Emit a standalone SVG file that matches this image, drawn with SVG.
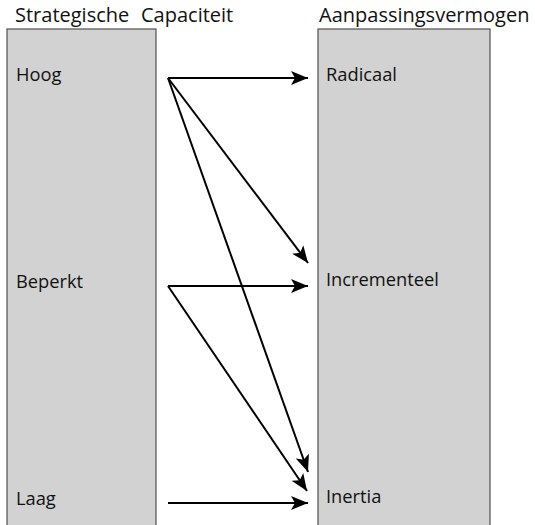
<svg xmlns="http://www.w3.org/2000/svg" width="535" height="525" viewBox="0 0 535 525">
  <style>
    .box { fill: #d2d2d2; stroke: #505050; stroke-width: 1.2; }
    .title { font-family: "Open Sans", "Liberation Sans", sans-serif; font-size: 20px; fill: #111; }
    .lbl { font-family: "Open Sans", "Liberation Sans", sans-serif; font-size: 18.3px; fill: #111; }
    .arr { stroke: #000; stroke-width: 2; fill: none; marker-end: url(#ah); }
  </style>
  <defs>
    <marker id="ah" markerUnits="userSpaceOnUse" markerWidth="20" markerHeight="14" refX="17" refY="7" orient="auto">
      <path d="M0,0 L17,7 L0,14 L4,7 z" fill="#000"/>
    </marker>
  </defs>
  <rect width="535" height="525" fill="#fff"/>
  <text class="title" x="15" y="22">Strategische</text>
  <text class="title" x="141" y="22">Capaciteit</text>
  <text class="title" x="319" y="22">Aanpassingsvermogen</text>
  <g id="strategische-capaciteit">
    <rect class="box" x="7" y="29" width="149" height="510"/>
    <g id="hoog"><text class="lbl" x="16" y="81">Hoog</text></g>
    <g id="beperkt"><text class="lbl" x="16" y="288">Beperkt</text></g>
    <g id="laag"><text class="lbl" x="16" y="505">Laag</text></g>
  </g>
  <g id="aanpassingsvermogen">
    <rect class="box" x="318" y="29" width="172" height="510"/>
    <g id="radicaal"><text class="lbl" x="326" y="81">Radicaal</text></g>
    <g id="incrementeel"><text class="lbl" x="326" y="286">Incrementeel</text></g>
    <g id="inertia"><text class="lbl" x="326" y="503">Inertia</text></g>
  </g>
  <g id="connectors">
    <line class="arr" x1="168" y1="78" x2="308" y2="78"/>
    <line class="arr" x1="168" y1="78" x2="308" y2="263"/>
    <line class="arr" x1="168" y1="78" x2="308" y2="472"/>
    <line class="arr" x1="168" y1="286" x2="308" y2="286"/>
    <line class="arr" x1="168" y1="286" x2="307" y2="491"/>
    <line class="arr" x1="168" y1="503" x2="308" y2="503"/>
  </g>
</svg>
